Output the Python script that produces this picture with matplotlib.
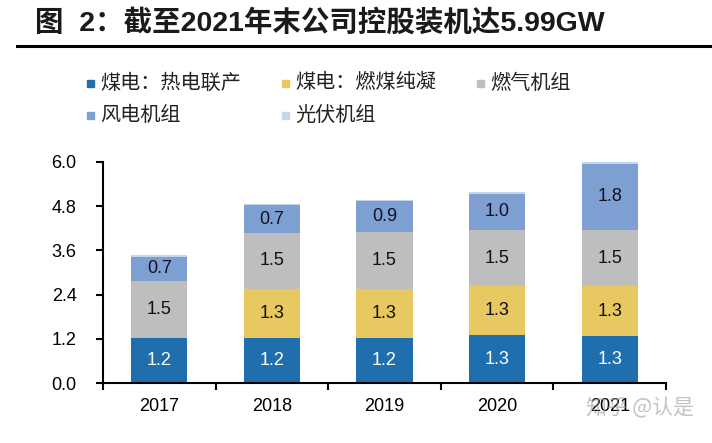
import matplotlib
matplotlib.use("Agg")
import matplotlib.pyplot as plt
from matplotlib.patches import Rectangle
import numpy as np

plt.rcParams['font.family'] = ['Liberation Sans', 'Noto Sans CJK SC', 'DejaVu Sans']

years = ['2017', '2018', '2019', '2020', '2021']
series_names = ['煤电：热电联产', '煤电：燃煤纯凝', '燃气机组', '风电机组', '光伏机组']
thermal = [1.23, 1.23, 1.21, 1.29, 1.28]
coal = [0.0, 1.32, 1.34, 1.33, 1.34]
gas = [1.54, 1.53, 1.54, 1.54, 1.54]
wind = [0.66, 0.74, 0.86, 0.98, 1.79]
solar = [0.05, 0.03, 0.03, 0.04, 0.04]
yticks = [0.0, 1.2, 2.4, 3.6, 4.8, 6.0]

colors = ['#1F6EAE', '#E8C860', '#BEBEBE', '#7E9FD1', '#C4D6EA']
label_colors = ['white', '#111111', '#111111', '#111122', None]

W, H = 712, 443
fig = plt.figure(figsize=(W / 100, H / 100), dpi=100)

# Title
fig.text(35 / W, 1 - 23 / H, '图  2：截至2021年末公司控股装机达5.99GW', fontsize=20.5,
         fontweight='bold', color='#1a1a1a', va='center', ha='left')
fig.add_artist(plt.Line2D([17 / W, 1.0], [1 - 46 / H, 1 - 46 / H], color='black', lw=2.2,
                          transform=fig.transFigure))

# Legend (manual)
leg_pos = [(87, 83), (282, 83), (477, 83), (87, 115), (282, 115)]
for (lx, ly), name, c in zip(leg_pos, series_names, colors):
    fig.add_artist(Rectangle((lx / W, 1 - (ly + 3.5) / H), 7 / W, 7 / H, color=c,
                             transform=fig.transFigure))
    fig.text((lx + 13) / W, 1 - ly / H, name, fontsize=14.5, va='center', ha='left',
             family=['Noto Sans CJK SC'], color='#222222')

ax = fig.add_axes([103 / W, 60 / H, (666 - 103) / W, (383 - 162) / H])
x = np.arange(len(years))
series = [thermal, coal, gas, wind, solar]
bottom = np.zeros(len(years))
for vals, c, lc in zip(series, colors, label_colors):
    vals = np.array(vals)
    ax.bar(x, vals, 0.5, bottom=bottom, color=c, edgecolor='none')
    if lc is not None:
        for xi, v, b in zip(x, vals, bottom):
            if v >= 0.3:
                ax.text(xi, b + v / 2, f'{v:.1f}', ha='center', va='center',
                        fontsize=13, color=lc)
    bottom += vals

ax.set_xlim(-0.5, len(years) - 0.5)
ax.set_ylim(0, 6.0)
ax.set_yticks(yticks)
ax.set_yticklabels([f'{t:.1f}' for t in yticks])
ax.set_xticks(x)
ax.set_xticklabels(years)
ax.set_xticks(np.arange(-0.5, len(years)), minor=True)
ax.tick_params(axis='x', which='major', length=0, pad=11, labelsize=13)
ax.tick_params(axis='x', which='minor', length=5, width=1.5, direction='out')
ax.tick_params(axis='y', length=5, width=1.5, direction='out', pad=14, labelsize=13)
for s in ['top', 'right']:
    ax.spines[s].set_visible(False)
for s in ['left', 'bottom']:
    ax.spines[s].set_linewidth(1.5)

# Watermark
fig.text(586 / W, 1 - 408 / H, '知乎 @认是', fontsize=15, color='#9a9a9a', alpha=0.6,
         va='center', ha='left', family=['Noto Sans CJK SC'])

fig.savefig('out.png', dpi=100)
